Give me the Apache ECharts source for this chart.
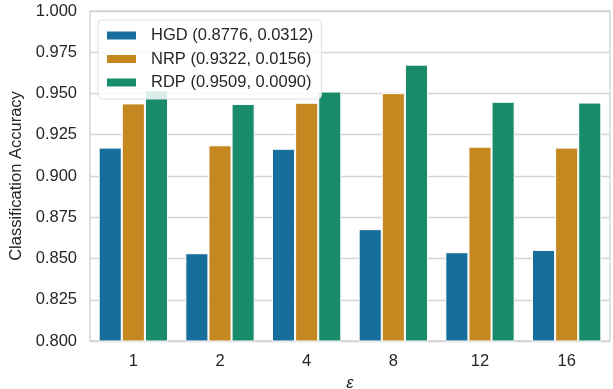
<!DOCTYPE html>
<html><head><meta charset="utf-8">
<script src="https://cdn.jsdelivr.net/npm/echarts@6/dist/echarts.min.js"></script>
<style>html,body{margin:0;padding:0;background:#fff}#c{width:613px;height:389px}</style>
</head><body><div id="c"></div>
<script>
const categories = ['1','2','4','8','12','16'];
const seriesNames = ['HGD (0.8776, 0.0312)','NRP (0.9322, 0.0156)','RDP (0.9509, 0.0090)'];
const hgd = [0.9172, 0.8532, 0.9165, 0.8678, 0.8538, 0.8552];
const nrp = [0.9440, 0.9186, 0.9444, 0.9502, 0.9178, 0.9172];
const rdp = [0.9520, 0.9436, 0.9512, 0.9675, 0.9450, 0.9445];
const yTicks = {min: 0.8, max: 1.0, step: 0.025};
const colors = ['#176d9c', '#c5871f', '#178b6a'];
const font = 'Liberation Sans, Arial, sans-serif';

const chart = echarts.init(document.getElementById('c'), null, {renderer: 'canvas'});
const seriesData = [hgd, nrp, rdp];
chart.setOption({
  animation: false,
  textStyle: {fontFamily: font},
  grid: {left: 90, right: 3, top: 11, bottom: 48, containLabel: false, outerBoundsMode: 'none',
    show: true, borderColor: '#cfcfcf', borderWidth: 1.3, backgroundColor: 'transparent'},
  legend: {
    orient: 'vertical', left: 98, top: 20,
    backgroundColor: 'rgba(255,255,255,0.85)', borderColor: '#e0e0e0', borderWidth: 1, borderRadius: 4,
    padding: [7, 8, 8, 7], itemWidth: 31, itemHeight: 10, itemGap: 6.5,
    icon: 'rect',
    textStyle: {fontSize: 16.5, color: '#262626', fontFamily: font, padding: [0, 0, 0, 9]},
    data: seriesNames
  },
  xAxis: {
    type: 'category', data: categories,
    axisLine: {show: false}, axisTick: {show: false},
    axisLabel: {fontSize: 16.5, color: '#262626', margin: 12},
    name: 'ε', nameLocation: 'middle', nameGap: 33,
    nameTextStyle: {fontSize: 16.5, color: '#262626', fontStyle: 'italic'}
  },
  yAxis: {
    type: 'value', min: yTicks.min, max: yTicks.max, interval: yTicks.step,
    axisLine: {show: false}, axisTick: {show: false},
    axisLabel: {fontSize: 16.5, color: '#262626', margin: 13, formatter: v => v.toFixed(3)},
    splitLine: {lineStyle: {color: '#d4d4d4', width: 1.3}},
    name: 'Classification Accuracy', nameLocation: 'middle', nameGap: 61,
    nameTextStyle: {fontSize: 16.5, color: '#262626'}
  },
  series: seriesNames.map((n, i) => ({
    name: n, type: 'bar', data: seriesData[i],
    barGap: '0%', barCategoryGap: '20%',
    itemStyle: {color: colors[i], borderColor: '#ffffff', borderWidth: 1}
  }))
});
</script></body></html>
